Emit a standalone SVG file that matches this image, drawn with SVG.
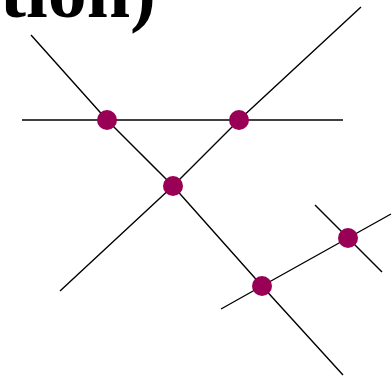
<svg xmlns="http://www.w3.org/2000/svg" width="392" height="379" viewBox="0 0 392 379">
<style>
.ln{stroke:#000;stroke-width:1.4;fill:none}
.dot{fill:#990055}
.ttl{font-family:"Liberation Serif","Times New Roman",serif;font-weight:bold;font-size:78px;fill:#000}
</style>
<rect width="392" height="379" fill="#fff"/>
<text class="ttl" x="0" y="17">tion)</text>
<g id="connectors">
<line class="ln" x1="22" y1="120" x2="343" y2="120"/>
<polyline class="ln" points="31,35 107,120 173,186 262,286 343,375"/>
<polyline class="ln" points="361,7 239,120 173,186 60,291"/>
<polyline class="ln" points="221,309 262,286 348,238 391,214"/>
<line class="ln" x1="315" y1="205" x2="382" y2="272"/>
</g>
<g id="n1"><circle class="dot" cx="107" cy="120" r="10"/></g>
<g id="n2"><circle class="dot" cx="239" cy="120" r="10"/></g>
<g id="n3"><circle class="dot" cx="173" cy="186" r="10"/></g>
<g id="n4"><circle class="dot" cx="262" cy="286" r="10"/></g>
<g id="n5"><circle class="dot" cx="348" cy="238" r="10"/></g>
</svg>
